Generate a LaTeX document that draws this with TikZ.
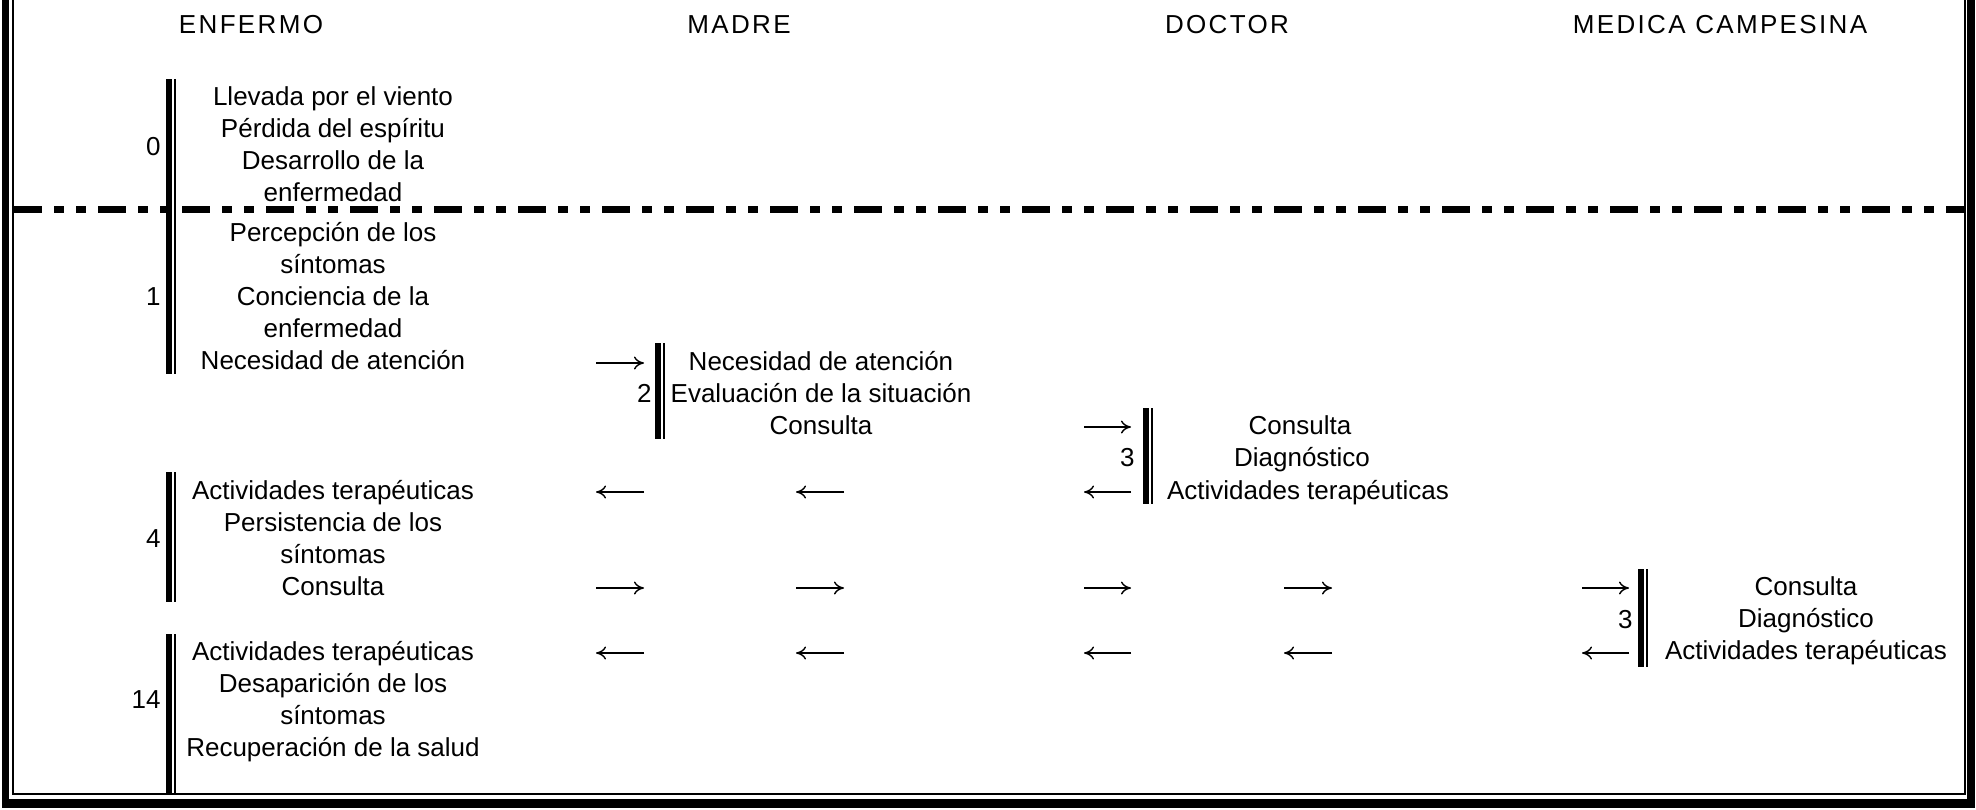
\documentclass[tikz,border=0pt]{standalone}
\usepackage{fontspec}
\setmainfont{Liberation Sans}
\usetikzlibrary{arrows.meta}
\newcommand\dblbar[3]{\fill (#1,#2) rectangle (#1+6,#3); \fill (#1+8,#2) rectangle (#1+10,#3);}
\tikzset{
  ln/.style={anchor=base, inner sep=0pt, font=\fontsize{13pt}{16pt}\selectfont},
  num/.style={anchor=base east, inner sep=0pt, font=\fontsize{13pt}{16pt}\selectfont},
  hdr/.style={anchor=base, inner sep=0pt, font=\fontsize{13pt}{16pt}\selectfont\addfontfeature{LetterSpace=9}},
  arr/.style={line width=0.7pt, -{To[length=5pt,width=6.5pt]}},
  dashdot/.style={line width=3.5pt, dash pattern=on 14pt off 6pt on 5pt off 6pt on 5pt off 6pt}
}
\begin{document}
\begin{tikzpicture}[x=0.5pt,y=-0.5pt]
\useasboundingbox (0,0) rectangle (1976,809);
% frame
\fill (2,0) rectangle (9,808);
\fill (12,0) rectangle (14,795);
\fill (1964,0) rectangle (1966,795);
\fill (1967,0) rectangle (1975,808);
\fill (12,793) rectangle (1966,795);
\fill (2,799) rectangle (1975,808);
% separator
\coordinate (sepL) at (14,209);
\coordinate (sepR) at (1964,209);
\draw[dashdot] (sepL) -- (sepR);
% headers
\node[hdr] (hE) at (251,33) {ENFERMO};
\node[hdr] (hM) at (739,33) {MADRE};
\node[hdr] (hD) at (1227,33) {DOCTOR};
\node[hdr] (hC) at (1720,33) {MEDICA CAMPESINA};
% bars
\dblbar{166}{79}{374}
\dblbar{655}{343}{439}
\dblbar{1143}{408}{504}
\dblbar{166}{472}{602}
\dblbar{1638}{569}{667}
\dblbar{166}{634}{795}
% numbers
\node[num] (n0) at (161,155) {0};
\node[num] (n1) at (161,305) {1};
\node[num] (n2) at (652,402) {2};
\node[num] (n3) at (1135,466) {3};
\node[num] (n4) at (161,547) {4};
\node[num] (n5) at (1633,628) {3};
\node[num] (n6) at (161,708) {14};
% texts
\foreach \t [count=\i] in {Llevada por el viento,Pérdida del espíritu,Desarrollo de la,enfermedad}
  \node[ln] (b0-\i) at (333,105+32.2*\i-32.2) {\t};
\foreach \t [count=\i] in {Percepción de los,síntomas,Conciencia de la,enfermedad,Necesidad de atención}
  \node[ln] (b1-\i) at (333,241+32.2*\i-32.2) {\t};
\foreach \t [count=\i] in {Necesidad de atención,Evaluación de la situación,Consulta}
  \node[ln] (b2-\i) at (821,370+32.2*\i-32.2) {\t};
\node[ln] (b3-1) at (1300,434) {Consulta};
\node[ln] (b3-2) at (1302,466) {Diagnóstico};
\node[ln] (b3-3) at (1308,499) {Actividades terapéuticas};
\foreach \t [count=\i] in {Actividades terapéuticas,Persistencia de los,síntomas,Consulta}
  \node[ln] (b4-\i) at (333,499+32.2*\i-32.2) {\t};
\foreach \t [count=\i] in {Consulta,Diagnóstico,Actividades terapéuticas}
  \node[ln] (b5-\i) at (1806,595+32.2*\i-32.2) {\t};
\foreach \t [count=\i] in {Actividades terapéuticas,Desaparición de los,síntomas,Recuperación de la salud}
  \node[ln] (b6-\i) at (333,660+32.2*\i-32.2) {\t};
% arrows
\coordinate (a1L) at (596,363); \coordinate (a1R) at (644,363);
\draw[arr] (a1L) -- (a1R);
\coordinate (a2L) at (1084,427); \coordinate (a2R) at (1131,427);
\draw[arr] (a2L) -- (a2R);
\foreach \l/\r [count=\k] in {596/644,796/844,1084/1131} {
  \coordinate (c\k L) at (\l,492); \coordinate (c\k R) at (\r,492);
  \draw[arr] (c\k R) -- (c\k L);
}
\foreach \l/\r [count=\k] in {596/644,796/844,1084/1131,1284/1332,1582/1629} {
  \coordinate (d\k L) at (\l,588); \coordinate (d\k R) at (\r,588);
  \draw[arr] (d\k L) -- (d\k R);
  \coordinate (e\k L) at (\l,653); \coordinate (e\k R) at (\r,653);
  \draw[arr] (e\k R) -- (e\k L);
}
\end{tikzpicture}
\end{document}
